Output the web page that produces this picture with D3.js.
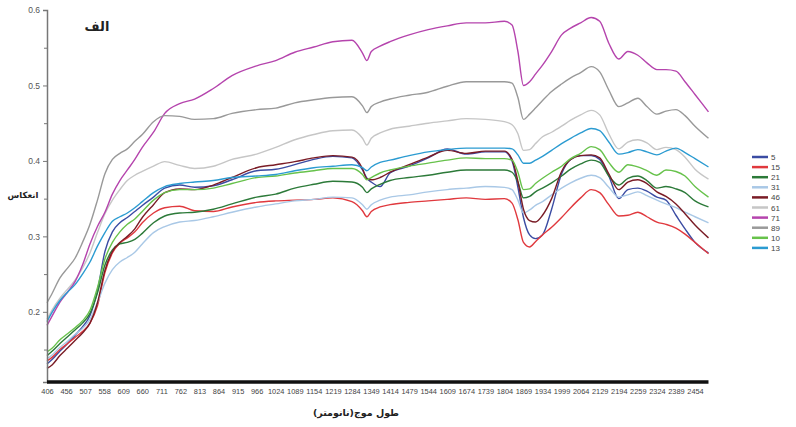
<!DOCTYPE html>
<html>
<head>
<meta charset="utf-8">
<script src="https://cdn.jsdelivr.net/npm/d3@7"></script>
<style>
body { margin: 0; background: #fff; }
svg { display: block; }
</style>
</head>
<body>
<svg width="796" height="427"></svg>
<script>
// category labels on the wavelength axis (nm)
var tickNm = [406, 456, 507, 558, 609, 660, 711, 762, 813, 864, 915, 966, 1024, 1089, 1154, 1219,
    1284, 1349, 1414, 1479, 1544, 1609, 1674, 1739, 1804, 1869, 1934, 1999, 2064, 2129, 2194,
    2259, 2324, 2389, 2454];

// sampled wavelengths (nm)
var wl = [406, 420, 440, 460, 480, 500, 520, 540, 560, 580, 600, 620, 640, 660, 690, 720, 760, 800,
    850, 900, 966, 1024, 1089, 1154, 1219, 1284, 1320, 1335, 1350, 1380, 1414, 1479, 1544, 1609,
    1674, 1739, 1804, 1830, 1850, 1869, 1890, 1910, 1934, 1965, 1999, 2030, 2064, 2100, 2129, 2160,
    2194, 2225, 2259, 2290, 2324, 2355, 2389, 2420, 2454, 2500];

var s5 = [0.131, 0.137, 0.148, 0.158, 0.169, 0.180, 0.195, 0.228, 0.280, 0.306, 0.318, 0.325, 0.333, 0.341,
    0.352, 0.364, 0.368, 0.365, 0.367, 0.375, 0.387, 0.389, 0.395, 0.402, 0.406, 0.404, 0.388, 0.377,
    0.372, 0.366, 0.384, 0.393, 0.404, 0.416, 0.409, 0.412, 0.412, 0.400, 0.365, 0.325, 0.302, 0.297,
    0.302, 0.336, 0.383, 0.402, 0.407, 0.407, 0.402, 0.380, 0.350, 0.362, 0.364, 0.360, 0.352, 0.348,
    0.328, 0.310, 0.292, 0.278];
var s15 = [0.135, 0.140, 0.150, 0.158, 0.166, 0.174, 0.185, 0.208, 0.252, 0.278, 0.291, 0.298, 0.306, 0.318,
    0.331, 0.338, 0.340, 0.334, 0.333, 0.339, 0.345, 0.347, 0.348, 0.349, 0.351, 0.346, 0.334, 0.326,
    0.333, 0.339, 0.342, 0.345, 0.347, 0.349, 0.351, 0.349, 0.350, 0.344, 0.322, 0.292, 0.286, 0.293,
    0.302, 0.312, 0.325, 0.338, 0.351, 0.362, 0.358, 0.342, 0.327, 0.328, 0.332, 0.326, 0.319, 0.316,
    0.311, 0.303, 0.292, 0.277];
var s21 = [0.142, 0.148, 0.158, 0.167, 0.176, 0.185, 0.198, 0.225, 0.262, 0.282, 0.290, 0.292, 0.296, 0.304,
    0.318, 0.327, 0.331, 0.332, 0.336, 0.343, 0.352, 0.356, 0.364, 0.369, 0.373, 0.372, 0.365, 0.358,
    0.363, 0.369, 0.374, 0.378, 0.381, 0.385, 0.388, 0.388, 0.388, 0.385, 0.372, 0.351, 0.353, 0.359,
    0.364, 0.371, 0.380, 0.389, 0.396, 0.401, 0.398, 0.380, 0.368, 0.377, 0.380, 0.374, 0.364, 0.366,
    0.363, 0.358, 0.347, 0.339];
var s31 = [0.138, 0.143, 0.153, 0.161, 0.170, 0.178, 0.190, 0.212, 0.238, 0.256, 0.266, 0.272, 0.279, 0.290,
    0.305, 0.313, 0.319, 0.321, 0.326, 0.332, 0.339, 0.343, 0.347, 0.349, 0.352, 0.351, 0.342, 0.336,
    0.342, 0.348, 0.352, 0.355, 0.359, 0.362, 0.364, 0.366, 0.365, 0.362, 0.348, 0.331, 0.335, 0.341,
    0.346, 0.355, 0.364, 0.371, 0.377, 0.381, 0.378, 0.365, 0.352, 0.355, 0.359, 0.354, 0.348, 0.343,
    0.338, 0.332, 0.326, 0.318];
var s46 = [0.125, 0.130, 0.142, 0.152, 0.162, 0.172, 0.185, 0.212, 0.255, 0.280, 0.292, 0.300, 0.310, 0.325,
    0.342, 0.358, 0.363, 0.362, 0.368, 0.378, 0.391, 0.395, 0.399, 0.404, 0.407, 0.405, 0.390, 0.376,
    0.375, 0.378, 0.385, 0.395, 0.405, 0.414, 0.410, 0.413, 0.413, 0.402, 0.373, 0.336, 0.321, 0.319,
    0.328, 0.350, 0.386, 0.402, 0.407, 0.408, 0.404, 0.383, 0.362, 0.372, 0.375, 0.370, 0.359, 0.353,
    0.343, 0.330, 0.315, 0.298];
var s61 = [0.190, 0.203, 0.218, 0.230, 0.242, 0.258, 0.278, 0.305, 0.330, 0.348, 0.362, 0.374, 0.381, 0.386,
    0.393, 0.399, 0.394, 0.390, 0.393, 0.402, 0.409, 0.418, 0.428, 0.435, 0.440, 0.441, 0.430, 0.421,
    0.430, 0.437, 0.442, 0.446, 0.450, 0.453, 0.456, 0.455, 0.452, 0.448, 0.436, 0.414, 0.415, 0.423,
    0.432, 0.438, 0.446, 0.454, 0.461, 0.467, 0.461, 0.436, 0.416, 0.425, 0.428, 0.424, 0.415, 0.418,
    0.415, 0.405, 0.389, 0.376];
var s71 = [0.182, 0.195, 0.213, 0.226, 0.240, 0.262, 0.290, 0.313, 0.332, 0.356, 0.374, 0.388, 0.402, 0.418,
    0.438, 0.463, 0.476, 0.482, 0.496, 0.513, 0.526, 0.533, 0.544, 0.551, 0.558, 0.560, 0.543, 0.533,
    0.545, 0.552, 0.558, 0.567, 0.574, 0.579, 0.583, 0.583, 0.585, 0.580, 0.545, 0.500, 0.505, 0.515,
    0.527, 0.545, 0.567, 0.576, 0.583, 0.590, 0.585, 0.556, 0.535, 0.545, 0.540, 0.530, 0.521, 0.521,
    0.519, 0.505, 0.488, 0.465];
var s89 = [0.212, 0.225, 0.245, 0.258, 0.271, 0.292, 0.316, 0.348, 0.383, 0.402, 0.410, 0.416, 0.426, 0.435,
    0.452, 0.460, 0.459, 0.455, 0.456, 0.463, 0.468, 0.470, 0.477, 0.481, 0.484, 0.485, 0.473, 0.464,
    0.472, 0.478, 0.482, 0.487, 0.491, 0.499, 0.505, 0.505, 0.505, 0.503, 0.484, 0.455, 0.462, 0.470,
    0.480, 0.492, 0.502, 0.510, 0.517, 0.525, 0.518, 0.494, 0.472, 0.477, 0.483, 0.472, 0.462, 0.466,
    0.468, 0.460, 0.446, 0.430];
var s10 = [0.147, 0.152, 0.163, 0.171, 0.179, 0.188, 0.202, 0.232, 0.270, 0.292, 0.306, 0.316, 0.323, 0.333,
    0.348, 0.358, 0.362, 0.362, 0.364, 0.370, 0.378, 0.380, 0.384, 0.387, 0.390, 0.390, 0.382, 0.375,
    0.378, 0.384, 0.388, 0.393, 0.397, 0.401, 0.404, 0.403, 0.403, 0.401, 0.385, 0.362, 0.363, 0.370,
    0.377, 0.385, 0.393, 0.403, 0.410, 0.419, 0.415, 0.398, 0.385, 0.395, 0.392, 0.387, 0.381, 0.388,
    0.386, 0.380, 0.366, 0.352];
var s13 = [0.187, 0.200, 0.215, 0.226, 0.236, 0.250, 0.266, 0.287, 0.305, 0.320, 0.326, 0.331, 0.338, 0.346,
    0.358, 0.366, 0.370, 0.372, 0.374, 0.378, 0.380, 0.382, 0.387, 0.391, 0.393, 0.395, 0.391, 0.387,
    0.392, 0.398, 0.401, 0.407, 0.412, 0.415, 0.417, 0.417, 0.417, 0.416, 0.408, 0.397, 0.397, 0.401,
    0.406, 0.414, 0.423, 0.430, 0.437, 0.443, 0.440, 0.425, 0.409, 0.411, 0.415, 0.412, 0.408, 0.413,
    0.417, 0.411, 0.403, 0.392];

var names = ['5', '15', '21', '31', '46', '61', '71', '89', '10', '13'];
var values = [s5, s15, s21, s31, s46, s61, s71, s89, s10, s13];
var colors = ['#3b4ca3', '#e0393e', '#2c7a39', '#a9c8e6', '#7a1c26', '#c6c6c6', '#b544ad', '#999999',
    '#67c24b', '#2b9bd1'];

var yMajor = [0.2, 0.3, 0.4, 0.5, 0.6];
var yMinor = [0.15, 0.25, 0.35, 0.45, 0.55];

var svg = d3.select('svg');
var plotLeft = 47, plotRight = 695, plotTop = 10, plotBottom = 382;

// category axis: labels equally spaced, extended past the last label
var x = d3.scaleLinear()
    .domain(tickNm)
    .range(tickNm.map(function (d, i) { return plotLeft + i * (plotRight - plotLeft) / (tickNm.length - 1); }));
var y = d3.scaleLinear().domain([0.107, 0.6]).range([plotBottom, plotTop]);

var line = d3.line()
    .x(function (d, i) { return x(wl[i]); })
    .y(function (d) { return y(d); })
    .curve(d3.curveMonotoneX);

svg.append('g')
    .selectAll('path')
    .data(values)
    .enter()
        .append('path')
        .attr('d', line)
        .attr('fill', 'none')
        .attr('stroke', function (d, i) { return colors[i]; })
        .attr('stroke-width', 1.4);

// y axis
var yAxis = svg.append('g')
    .attr('transform', 'translate(' + plotLeft + ',0)')
    .call(d3.axisLeft(y).tickValues(yMajor).tickSize(4).tickFormat(d3.format('.1f')));
svg.append('g')
    .attr('transform', 'translate(' + plotLeft + ',0)')
    .call(d3.axisLeft(y).tickValues(yMinor).tickSize(3).tickFormat(''))
    .select('.domain').remove();
svg.selectAll('g .tick line').attr('stroke', '#777');
yAxis.select('.domain').attr('stroke', '#777').attr('stroke-width', 1.5);
yAxis.selectAll('text')
    .attr('font-family', 'Arial, "Liberation Sans", sans-serif')
    .attr('font-size', 8.5)
    .attr('fill', '#555');

// x axis
var xAxis = svg.append('g')
    .attr('transform', 'translate(0,' + plotBottom + ')')
    .call(d3.axisBottom(x).tickValues(tickNm).tickSize(0).tickPadding(7).tickFormat(d3.format('d')));
xAxis.select('.domain')
    .attr('d', 'M' + plotLeft + ',0H' + x(2500))
    .attr('stroke', '#111')
    .attr('stroke-width', 3.5);
xAxis.selectAll('text')
    .attr('font-family', 'Arial, "Liberation Sans", sans-serif')
    .attr('font-size', 7.4)
    .attr('fill', '#444');

// titles
svg.append('text')
    .attr('x', 97).attr('y', 31)
    .attr('text-anchor', 'middle')
    .attr('font-family', '"DejaVu Sans", sans-serif')
    .attr('font-weight', 'bold')
    .attr('font-size', 13)
    .attr('fill', '#222')
    .text('الف');

svg.append('text')
    .attr('x', 23).attr('y', 198)
    .attr('text-anchor', 'middle')
    .attr('font-family', '"DejaVu Sans", sans-serif')
    .attr('font-weight', 'bold')
    .attr('font-size', 8.5)
    .attr('fill', '#222')
    .text('انعکاس');

svg.append('text')
    .attr('x', 356).attr('y', 416)
    .attr('text-anchor', 'middle')
    .attr('font-family', '"DejaVu Sans", sans-serif')
    .attr('font-weight', 'bold')
    .attr('font-size', 9.5)
    .attr('fill', '#222')
    .text('طول موج(نانومتر)');

// legend
var legend = svg.append('g').attr('transform', 'translate(752,157)');
var item = legend.selectAll('g')
    .data(names)
    .enter()
        .append('g')
        .attr('transform', function (d, i) { return 'translate(0,' + i * 10.1 + ')'; });
item.append('line')
    .attr('x1', 0).attr('x2', 16)
    .attr('stroke', function (d, i) { return colors[i]; })
    .attr('stroke-width', 2.5);
item.append('text')
    .attr('x', 19).attr('y', 3)
    .attr('font-family', 'Arial, "Liberation Sans", sans-serif')
    .attr('font-size', 8)
    .attr('fill', '#444')
    .text(function (d) { return d; });
</script>
</body>
</html>
